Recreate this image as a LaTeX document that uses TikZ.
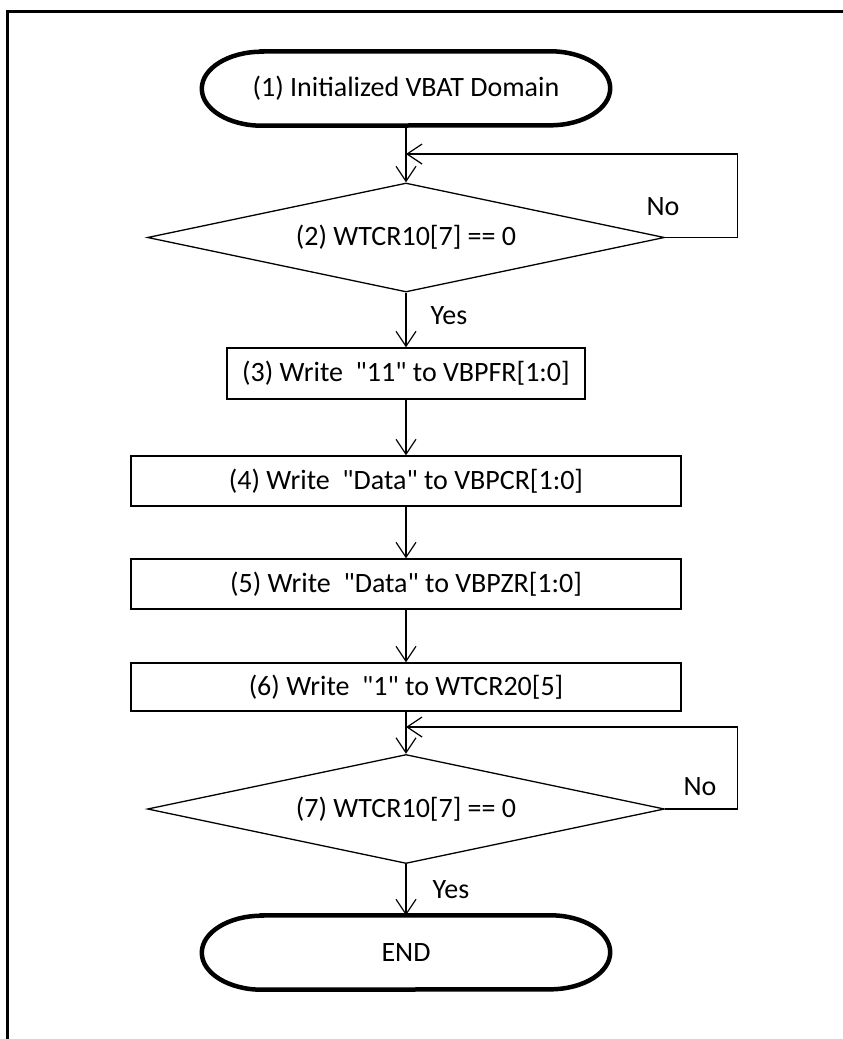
\documentclass[tikz,border=0pt]{standalone}
\usepackage{fontspec}
\setmainfont{Carlito}[Ligatures=TeXOff]
\usetikzlibrary{shapes.geometric,arrows.meta}

\tikzset{
  every node/.style={font=\fontsize{28}{32}\selectfont},
  terminal/.style={minimum width=408pt,minimum height=74pt,inner sep=0pt},
  flowbox/.style={draw,line width=1.3pt,minimum width=550pt,minimum height=50pt,inner sep=0pt},
  test/.style={draw,diamond,aspect=4.7,minimum width=517pt,minimum height=109pt,inner sep=0pt,line width=1.3pt},
  flow/.style={line width=1.2pt,-{Straight Barb[length=15pt,width=20pt,line width=1.2pt]}},
}

\begin{document}
\begin{tikzpicture}[x=1pt,y=-1pt]
\clip (0,0) rectangle (843,1039);
\draw[line width=3pt] (7,1050) -- (7,11) -- (850,11);

\node[terminal] (start) at (406,88.5) {(1) Initialized VBAT Domain};
\node[test] (wait1) at (406,237.5) {(2) WTCR10[7] == 0};
\node[flowbox,minimum width=358pt,minimum height=51pt] (pfr) at (406,373.5) {(3) Write\ \ "11" to VBPFR[1:0]};
\node[flowbox] (pcr) at (406,481) {(4) Write\ \ "Data" to VBPCR[1:0]};
\node[flowbox] (pzr) at (406,584) {(5) Write\ \ "Data" to VBPZR[1:0]};
\node[flowbox,minimum height=48pt] (wtcr) at (406,687) {(6) Write\ \ "1" to WTCR20[5]};
\node[test] (wait2) at (406,809) {(7) WTCR10[7] == 0};
\node[terminal] (stop) at (406,952.5) {END};

% terminals get elliptic ends
\foreach \t in {start,stop}
  \draw[line width=4.5pt] ([xshift=60pt]\t.north west) -- ([xshift=-60pt]\t.north east)
    arc[start angle=90,end angle=-90,x radius=60pt,y radius=37pt]
    -- ([xshift=60pt]\t.south west)
    arc[start angle=270,end angle=90,x radius=60pt,y radius=37pt] -- cycle;

\coordinate (back1) at (406,154);
\coordinate (back2) at (406,727);

\draw[flow] (start) -- (wait1);
\draw[flow] (wait1.east) -- ++(72,0) |- (back1);
\draw[flow] (wait1) -- (pfr);
\draw[flow] (pfr) -- (pcr);
\draw[flow] (pcr) -- (pzr);
\draw[flow] (pzr) -- (wtcr);
\draw[flow] (wtcr) -- (wait2);
\draw[flow] (wait2.east) -- ++(72,0) |- (back2);
\draw[flow] (wait2) -- (stop);

\node (no1) at (663,207) {No};
\node (yes1) at (449,316) {Yes};
\node (no2) at (700,787) {No};
\node (yes2) at (451,890) {Yes};
\end{tikzpicture}
\end{document}
